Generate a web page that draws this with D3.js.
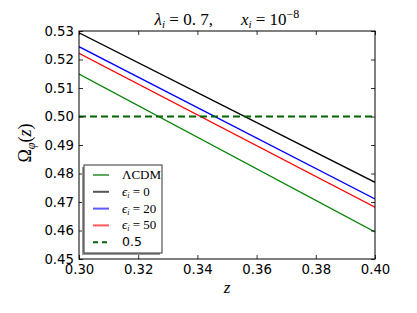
<!DOCTYPE html>
<html><head><meta charset="utf-8">
<script src="https://cdn.jsdelivr.net/npm/d3@7"></script>
<style>body{margin:0;background:#fff}svg{display:block}</style>
</head><body><svg id="c" width="417" height="313"></svg>
<script>
const zVals = [0.30, 0.40];
const lcdm = [0.5149, 0.4595];
const eps0 = [0.5294, 0.4769];
const eps20 = [0.5245, 0.4711];
const eps50 = [0.5222, 0.4682];
const refLine = [0.5, 0.5];
const xTicks = [0.30, 0.32, 0.34, 0.36, 0.38, 0.40];
const yTicks = [0.45, 0.46, 0.47, 0.48, 0.49, 0.50, 0.51, 0.52, 0.53];

const svg = d3.select("#c");
const L = 79, R = 375, T = 31, B = 259;
const x = d3.scaleLinear().domain([0.30, 0.40]).range([L, R]);
const y = d3.scaleLinear().domain([0.45, 0.53]).range([B, T]);
const sans = "DejaVu Sans";
const serif = "Liberation Serif";

svg.append("clipPath").attr("id","cp").append("rect").attr("x",L).attr("y",T).attr("width",R-L).attr("height",B-T);

const series = [
  {v: lcdm, c: "#008000", lc:"#5fa85f", name: "ΛCDM", dash:null},
  {v: eps0, c: "#000000", lc:"#555555", name: "0", dash:null},
  {v: eps20, c: "#0000ff", lc:"#5b5bff", name: "20", dash:null},
  {v: eps50, c: "#ff0000", lc:"#ff5b5b", name: "50", dash:null},
  {v: refLine, c: "#006400", lc:"#006400", name: "0.5", dash:"7,4"}
];
const line = d3.line().x((d,i)=>x(zVals[i])).y(d=>y(d));
const g = svg.append("g").attr("clip-path","url(#cp)");
series.forEach(s=>{
  g.append("path").attr("d", line(s.v)).attr("fill","none").attr("stroke", s.c)
   .attr("stroke-width", s.dash?2:1.3).attr("stroke-dasharray", s.dash);
});

const ax = svg.append("g");
ax.append("g").attr("transform",`translate(0,${B})`).call(d3.axisBottom(x).tickValues(xTicks).tickFormat(d3.format(".2f")).tickSizeInner(-4).tickSizeOuter(0).tickPadding(6));
ax.append("g").attr("transform",`translate(0,${T})`).call(d3.axisTop(x).tickValues(xTicks).tickFormat("").tickSizeInner(-4).tickSizeOuter(0));
ax.append("g").attr("transform",`translate(${L},0)`).call(d3.axisLeft(y).tickValues(yTicks).tickFormat(d3.format(".2f")).tickSizeInner(-4).tickSizeOuter(0).tickPadding(5));
ax.append("g").attr("transform",`translate(${R},0)`).call(d3.axisRight(y).tickValues(yTicks).tickFormat("").tickSizeInner(-4).tickSizeOuter(0));
ax.selectAll(".domain").remove();
ax.selectAll(".tick line").attr("stroke","#000").attr("stroke-width",0.8);
ax.selectAll(".tick text").attr("font-family",sans).attr("font-size","13.3px").attr("fill","#000");
svg.append("rect").attr("x",L).attr("y",T).attr("width",R-L).attr("height",B-T).attr("fill","none").attr("stroke","#000").attr("stroke-width",1);

// title
const title = svg.append("text").attr("x",227).attr("y",25).attr("text-anchor","middle")
  .attr("font-family",serif).attr("font-size","17px");
title.append("tspan").attr("font-style","italic").text("λ");
title.append("tspan").attr("font-style","italic").attr("font-size","11px").attr("dy",3).text("i");
title.append("tspan").attr("dy",-3).text(" = 0. 7,");
title.append("tspan").attr("dx",28).attr("font-style","italic").text("x");
title.append("tspan").attr("font-style","italic").attr("font-size","11px").attr("dy",3).text("i");
title.append("tspan").attr("dy",-3).text(" = 10");
title.append("tspan").attr("font-size","12px").attr("dy",-7).text("−8");

svg.append("text").attr("x",227).attr("y",293).attr("text-anchor","middle")
  .attr("font-family",serif).attr("font-style","italic").attr("font-size","17px").text("z");
const yl = svg.append("text").attr("transform","translate(31,143) rotate(-90)").attr("text-anchor","middle")
  .attr("font-family",serif).attr("font-size","18px");
yl.append("tspan").text("Ω");
yl.append("tspan").attr("font-style","italic").attr("font-size","12px").attr("dy",4).text("φ");
yl.append("tspan").attr("dy",-4).text("(");
yl.append("tspan").attr("font-style","italic").text("z");
yl.append("tspan").text(")");

// legend
const lx = 84, ly = 165, lw = 78, lh = 88;
svg.append("rect").attr("x",lx-2).attr("y",ly+2).attr("width",lw).attr("height",lh).attr("fill","#999");
svg.append("rect").attr("x",lx).attr("y",ly).attr("width",lw).attr("height",lh).attr("fill","#fff").attr("stroke","#333").attr("stroke-width",1);
series.forEach((s,i)=>{
  const yy = ly + 10 + i*16.8;
  svg.append("line").attr("x1",lx+9).attr("x2",lx+25).attr("y1",yy).attr("y2",yy)
    .attr("stroke",s.lc).attr("stroke-width",2).attr("stroke-dasharray",s.dash?"5,4":null);
  const t = svg.append("text").attr("x",lx+38).attr("y",yy+4).attr("font-size","13px");
  if (i===0) { t.attr("font-family",serif).text(s.name); }
  else if (i===4) { t.attr("font-family",sans).attr("font-size","12.5px").text(s.name); }
  else {
    t.attr("font-family",serif);
    t.append("tspan").attr("font-style","italic").text("ϵ");
    t.append("tspan").attr("font-style","italic").attr("font-size","8px").attr("dy",2).text("i");
    t.append("tspan").attr("dy",-2).text(" = " + s.name);
  }
});
</script></body></html>
